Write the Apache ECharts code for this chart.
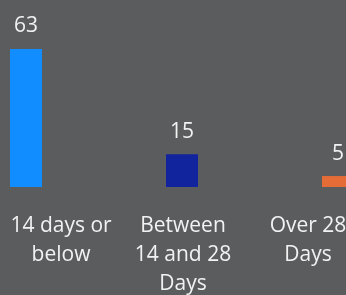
<!DOCTYPE html>
<html>
<head>
<meta charset="utf-8">
<script src="https://cdn.jsdelivr.net/npm/echarts@6/dist/echarts.min.js"></script>
<style>
  html, body { margin: 0; padding: 0; background: #5b5c5e; }
  #chart { width: 346px; height: 295px; }
</style>
</head>
<body>
<div id="chart"></div>
<script>
var categories = ['14 days or\nbelow', 'Between\n14 and 28\nDays', 'Over 28\nDays'];
var values = [63, 15, 5];
var barColors = ['#118DFF', '#12239E', '#E66C37'];
// label shifts (Power BI keeps clipped labels inside the view)
var labelPads = [[0, 0, 0, 70], [0, 0, 0, 2], [0, 60, 0, 0]];

var myChart = echarts.init(document.getElementById('chart'));
var fontFam = '"Segoe UI", "Open Sans", "Noto Sans", sans-serif';

myChart.setOption({
    backgroundColor: '#5b5c5e',
    animation: false,
    grid: { left: -52, width: 468, top: 49, bottom: 108, containLabel: false, outerBoundsMode: 'none' },
    xAxis: {
        type: 'category',
        data: categories.map(function (c, i) {
            return { value: c, textStyle: { padding: labelPads[i] } };
        }),
        axisLine: { show: false },
        axisTick: { show: false },
        axisLabel: {
            interval: 0,
            color: '#f2f2f2',
            fontFamily: fontFam,
            fontSize: 21,
            lineHeight: 29,
            margin: 25
        }
    },
    yAxis: {
        type: 'value',
        min: 0,
        max: 63,
        show: false,
        splitLine: { show: false }
    },
    series: [{
        type: 'bar',
        barWidth: 32,
        data: values.map(function (v, i) {
            return { value: v, itemStyle: { color: barColors[i] } };
        }),
        label: {
            show: true,
            position: 'top',
            distance: 12,
            color: '#f2f2f2',
            fontFamily: fontFam,
            fontSize: 21
        }
    }]
});
</script>
</body>
</html>
